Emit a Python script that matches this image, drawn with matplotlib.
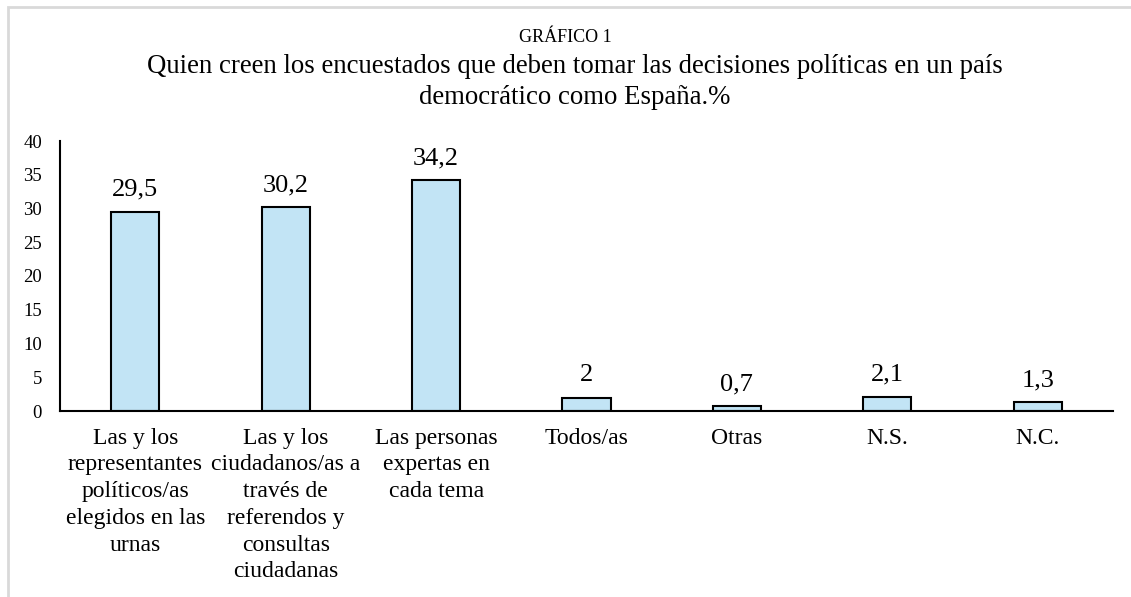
import numpy as np
import matplotlib.pyplot as plt
from matplotlib.patches import Rectangle

plt.rcParams['font.family'] = ['Liberation Serif', 'DejaVu Serif']

# Data
categorias = [
    "Las y los\nrepresentantes\npolíticos/as\nelegidos en las\nurnas",
    "Las y los\nciudadanos/as a\ntravés de\nreferendos y\nconsultas\nciudadanas",
    "Las personas\nexpertas en\ncada tema",
    "Todos/as",
    "Otras",
    "N.S.",
    "N.C.",
]
valores = [29.5, 30.2, 34.2, 2.0, 0.7, 2.1, 1.3]
etiquetas = ["29,5", "30,2", "34,2", "2", "0,7", "2,1", "1,3"]

fig = plt.figure(figsize=(11.31, 5.97), dpi=100)

# light grey frame around the chart
fig.patches.append(Rectangle((8 / 1131, -0.1), 1.2, 1.1 - 8 / 597 + 0.001,
                             transform=fig.transFigure, fill=False,
                             edgecolor='#D9D9D9', linewidth=2))

ax = fig.add_axes([60 / 1131, 1 - 411 / 597, (1113 - 60) / 1131, (411 - 141) / 597])

x = np.arange(len(valores))
bars = ax.bar(x, valores, width=0.32, color='#C2E4F5', edgecolor='black', linewidth=1.5)

for xi, v, lab in zip(x, valores, etiquetas):
    ax.annotate(lab, (xi, v), xytext=(0, 8), textcoords='offset points',
                ha='center', va='bottom', fontsize=19)

ax.set_xlim(-0.5, len(valores) - 0.5)
ax.set_ylim(0, 40)
ax.set_yticks(np.arange(0, 41, 5))
ax.set_xticks(x)
ax.set_xticklabels(categorias, fontsize=17, linespacing=1.36)
ax.tick_params(axis='y', length=0, pad=13, labelsize=13.5)
ax.tick_params(axis='x', length=0, pad=12)

for s in ['top', 'right']:
    ax.spines[s].set_visible(False)
for s in ['left', 'bottom']:
    ax.spines[s].set_linewidth(1.5)

fig.text(0.5, 1 - 38 / 597, "GRÁFICO 1", ha='center', va='center', fontsize=13)
fig.text(575 / 1131, 1 - 82 / 597,
         "Quien creen los encuestados que deben tomar las decisiones políticas en un país\n"
         "democrático como España.%",
         ha='center', va='center', fontsize=19.3, linespacing=1.35)

fig.savefig('out.png', dpi=100)
